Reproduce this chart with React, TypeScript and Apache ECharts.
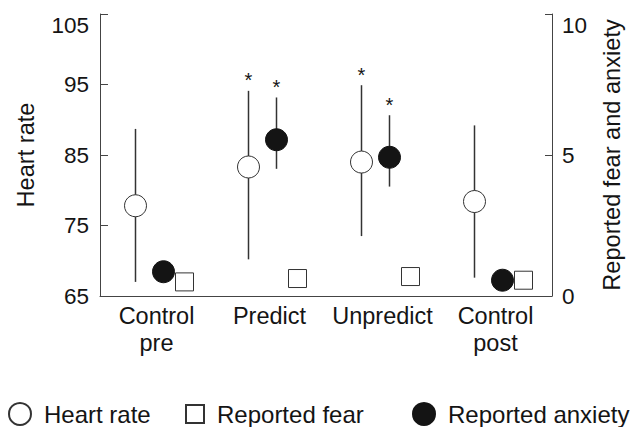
import { useEffect, useRef } from "react";
import * as echarts from "echarts";

// ---- data ----
const categories = ["Control\npre", "Predict", "Unpredict", "Control\npost"];

const heartRateMean = [77.8, 83.3, 84.0, 78.4];
const heartRateLow = [67.0, 70.2, 73.5, 67.6];
const heartRateHigh = [88.7, 94.1, 94.9, 89.2];
const heartRateSignificant = [false, true, true, false];

const anxietyMean = [0.86, 5.54, 4.92, 0.56];
const anxietyLow: (number | null)[] = [null, 4.51, 3.88, null];
const anxietyHigh: (number | null)[] = [null, 7.04, 6.41, null];
const anxietySignificant = [false, true, true, false];

const fearMean = [0.5, 0.62, 0.69, 0.56];

// axis ranges / ticks
const heartRateRange = [65, 105];
const heartRateStep = 10;
const reportRange = [0, 10];
const reportStep = 5;

const FONT = "'Liberation Sans', Arial, Helvetica, sans-serif";
const INK = "#141414";
const LINE = "#444";

const HR_OFFSET = -21;
const ANX_OFFSET = 7;
const FEAR_OFFSET = 28;
const STAR_SIZE = 20;

function errorBarSeries(
  name: string,
  lows: (number | null)[],
  highs: (number | null)[],
  sig: boolean[],
  yAxisIndex: number,
  dx: number
) {
  const data = lows.map((lo, i) => [i, lo, highs[i], sig[i] ? 1 : 0]);
  return {
    type: "custom",
    name,
    yAxisIndex,
    z: 1,
    silent: true,
    encode: { x: 0, y: [1, 2] },
    data,
    renderItem: (params: any, api: any) => {
      const lo = api.value(1);
      const hi = api.value(2);
      if (lo == null || hi == null || isNaN(lo) || isNaN(hi)) return null;
      const cat = api.value(0);
      const pLo = api.coord([cat, lo]);
      const pHi = api.coord([cat, hi]);
      const x = pLo[0] + dx;
      const children: any[] = [
        {
          type: "line",
          shape: { x1: x, y1: pLo[1], x2: x, y2: pHi[1] },
          style: { stroke: "#333", lineWidth: 1.5 },
        },
      ];
      if (api.value(3) === 1) {
        children.push({
          type: "text",
          x,
          y: pHi[1] - 15 + 0.22 * STAR_SIZE,
          style: {
            text: "*",
            fontSize: STAR_SIZE,
            fontFamily: FONT,
            fill: INK,
            align: "center",
            verticalAlign: "middle",
          },
        });
      }
      return { type: "group", children };
    },
  };
}

export default function App() {
  const ref = useRef<HTMLDivElement>(null);

  useEffect(() => {
    if (!ref.current) return;
    const chart = echarts.init(ref.current, null, { renderer: "svg" });

    const legendBase = {
      orient: "horizontal",
      top: 397,
      selectedMode: false,
      textStyle: {
        fontSize: 24,
        fontFamily: FONT,
        color: INK,
        padding: [0, 0, 0, 8],
      },
    };

    chart.setOption({
      animation: false,
      backgroundColor: "#fff",
      textStyle: { fontFamily: FONT },
      grid: { left: 100, right: 75, top: 14, bottom: 131, containLabel: false },
      legend: [
        {
          ...legendBase,
          left: 3,
          itemWidth: 22,
          itemHeight: 22,
          data: [{ name: "Heart rate", icon: "circle" }],
        },
        {
          ...legendBase,
          left: 180,
          itemWidth: 18,
          itemHeight: 18,
          data: [{ name: "Reported fear", icon: "rect" }],
        },
        {
          ...legendBase,
          left: 407,
          itemWidth: 22,
          itemHeight: 22,
          data: [{ name: "Reported anxiety", icon: "circle" }],
        },
      ],
      xAxis: {
        type: "category",
        data: categories,
        boundaryGap: true,
        axisLine: { show: true, lineStyle: { color: LINE, width: 1 } },
        axisTick: { show: false },
        axisLabel: {
          fontSize: 23.5,
          lineHeight: 27,
          color: INK,
          fontFamily: FONT,
          margin: 6,
          interval: 0,
        },
        splitLine: { show: false },
      },
      yAxis: [
        {
          type: "value",
          position: "left",
          min: heartRateRange[0],
          max: heartRateRange[1],
          interval: heartRateStep,
          name: "Heart rate",
          nameLocation: "middle",
          nameRotate: 90,
          nameGap: 62,
          nameTextStyle: { fontSize: 23.6, color: INK, fontFamily: FONT },
          axisLine: { show: true, lineStyle: { color: LINE, width: 1 } },
          axisTick: { show: true, inside: true, length: 8, lineStyle: { color: LINE } },
          axisLabel: {
            fontSize: 22.5,
            color: INK,
            fontFamily: FONT,
            margin: 11,
            verticalAlignMaxLabel: "top",
          },
          splitLine: { show: false },
        },
        {
          type: "value",
          position: "right",
          min: reportRange[0],
          max: reportRange[1],
          interval: reportStep,
          name: "Reported fear and anxiety",
          nameLocation: "middle",
          nameRotate: 90,
          nameGap: 48,
          nameTextStyle: { fontSize: 23.6, color: INK, fontFamily: FONT },
          axisLine: { show: true, lineStyle: { color: LINE, width: 1 } },
          axisTick: { show: true, inside: true, length: 7, lineStyle: { color: LINE } },
          axisLabel: {
            fontSize: 22.5,
            color: INK,
            fontFamily: FONT,
            margin: 10,
            verticalAlignMaxLabel: "top",
          },
          splitLine: { show: false },
        },
      ],
      series: [
        errorBarSeries("hrErr", heartRateLow, heartRateHigh, heartRateSignificant, 0, HR_OFFSET),
        errorBarSeries("anxErr", anxietyLow, anxietyHigh, anxietySignificant, 1, ANX_OFFSET),
        {
          type: "scatter",
          name: "Heart rate",
          yAxisIndex: 0,
          z: 3,
          symbol: "circle",
          symbolSize: 22,
          symbolOffset: [HR_OFFSET, 0],
          itemStyle: { color: "#fff", borderColor: "#333", borderWidth: 1, opacity: 1 },
          data: heartRateMean.map((v, i) => [i, v]),
        },
        {
          type: "scatter",
          name: "Reported fear",
          yAxisIndex: 1,
          z: 3,
          symbol: "rect",
          symbolSize: 18,
          symbolOffset: [FEAR_OFFSET, 0],
          itemStyle: { color: "#fff", borderColor: "#333", borderWidth: 1, opacity: 1 },
          data: fearMean.map((v, i) => [i, v]),
        },
        {
          type: "scatter",
          name: "Reported anxiety",
          yAxisIndex: 1,
          z: 3,
          symbol: "circle",
          symbolSize: 22,
          symbolOffset: [ANX_OFFSET, 0],
          itemStyle: { color: INK, borderColor: INK, borderWidth: 1, opacity: 1 },
          data: anxietyMean.map((v, i) => [i, v]),
        },
      ],
    });

    return () => chart.dispose();
  }, []);

  return (
    <div
      ref={ref}
      style={{ position: "absolute", left: 0, top: 0, width: 632, height: 427 }}
    />
  );
}
